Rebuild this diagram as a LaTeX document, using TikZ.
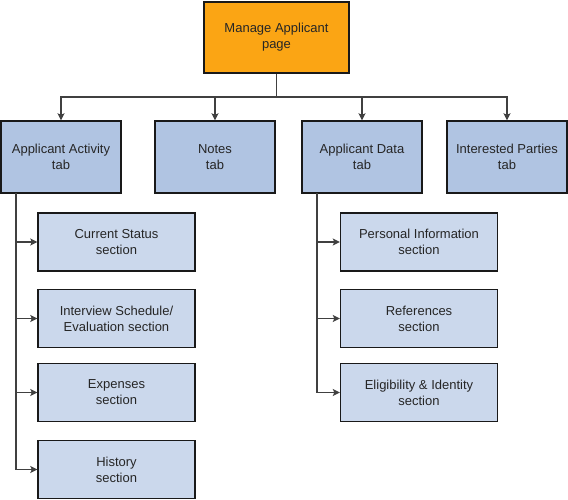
\documentclass[tikz,border=0pt]{standalone}
\usepackage{fontspec}
\setmainfont{Liberation Sans}
\usetikzlibrary{arrows.meta}
\definecolor{orangebox}{HTML}{FBA514}
\definecolor{tabblue}{HTML}{B0C4E2}
\definecolor{secblue}{HTML}{CBD8EC}
\definecolor{linecol}{HTML}{404040}
\begin{document}
\begin{tikzpicture}[x=1pt,y=-1pt,
  box/.style={draw=black!90,line width=1.4pt,align=center,inner sep=0pt,
    font=\fontsize{13}{16}\selectfont,text=black!85},
  topbox/.style={box,fill=orangebox,minimum width=145pt,minimum height=71pt},
  tabbox/.style={box,fill=tabblue,minimum width=120pt,minimum height=72pt},
  secbox/.style={box,fill=secblue,minimum width=157pt,minimum height=58pt},
  conn/.style={draw=linecol,line width=1.6pt},
  arr/.style={conn,-{Stealth[length=7pt,width=7pt,inset=1.5pt]}}]
\useasboundingbox (0,0) rectangle (568,500);
\node[topbox] (m) at (276.5,37.5) {Manage Applicant\\page};
\node[tabbox] (aa) at (61,157) {Applicant Activity\\tab};
\node[tabbox] (nt) at (215,157) {Notes\\tab};
\node[tabbox] (ad) at (362,157) {Applicant Data\\tab};
\node[tabbox] (ip) at (507,157) {Interested Parties\\tab};
\node[secbox] (cs) at (116.5,242) {Current Status\\section};
\node[secbox] (is) at (116.5,318.5) {Interview Schedule/\\Evaluation section};
\node[secbox] (ex) at (116.5,392.5) {Expenses\\section};
\node[secbox] (hi) at (116.5,469.5) {History\\section};
\node[secbox] (pi) at (419,242) {Personal Information\\section};
\node[secbox] (rf) at (419,318.5) {References\\section};
\node[secbox] (ei) at (419,392.5) {Eligibility \& Identity\\section};
\coordinate (bus) at (276.5,97);
\coordinate (lv) at (16,193);
\coordinate (rv) at (317,193);
\draw[conn] (m.south) -- (bus);
\draw[arr] (bus) -| (aa.north);
\draw[arr] (bus) -| (nt.north);
\draw[arr] (bus) -| (ad.north);
\draw[arr] (bus) -| (ip.north);
\draw[conn] (lv) -- (lv |- hi.west);
\foreach \n in {cs,is,ex,hi} \draw[arr] (lv |- \n.west) -- (\n.west);
\draw[conn] (rv) -- (rv |- ei.west);
\foreach \n in {pi,rf,ei} \draw[arr] (rv |- \n.west) -- (\n.west);
\end{tikzpicture}
\end{document}
